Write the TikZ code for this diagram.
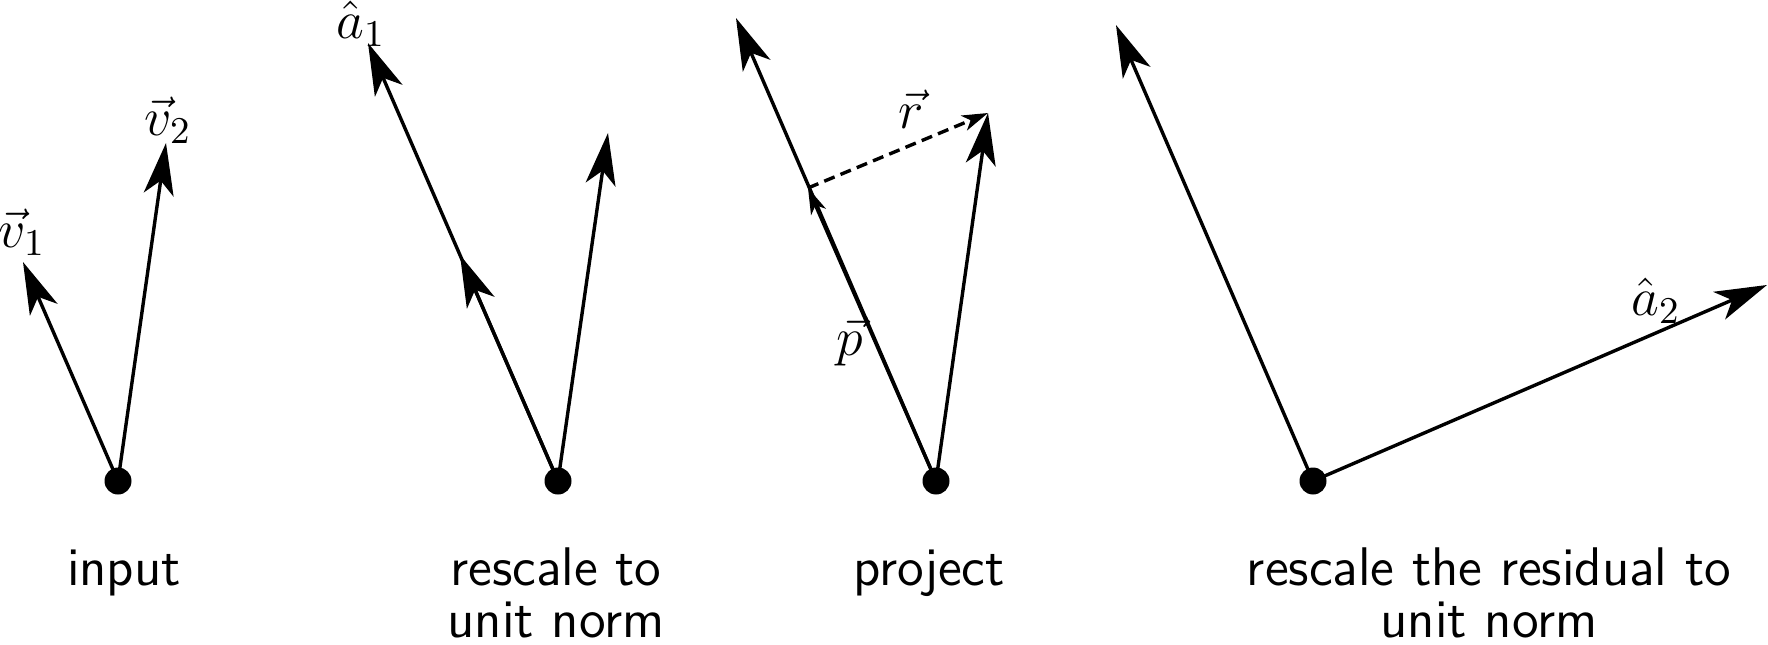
\documentclass[tikz,border=0pt]{standalone}
\usepackage{fix-cm}
\usepackage{amsmath}
\usepackage{tikz}
\usetikzlibrary{arrows.meta}
\tikzset{
  vec/.style={->, line width=0.85pt,
    >={Stealth[length=13pt, width=7.5pt, inset=3.5pt]}},
  smallvec/.style={->, line width=0.85pt,
    >={Stealth[length=6.5pt, width=4pt, inset=1.8pt]}},
  residual/.style={smallvec, dash pattern=on 2.8pt off 1.6pt},
  origin/.style={
    circle,
    fill=black,
    inner sep=0pt,
    minimum size=6.75pt},
  veclabel/.style={font=\fontsize{13.5}{15}\selectfont, inner sep=0pt},
  caption/.style={
    font=\sffamily\fontsize{13.6}{13}\selectfont,
    align=center,
    inner sep=0pt,
    anchor=base},
}
\begin{document}
\begin{tikzpicture}[x=0.25pt, y=0.25pt]
     \useasboundingbox (0,0) rectangle (1768,644);
     % input
     \node[origin] (OriginA) at (118,163) {};
     \coordinate (VOneA) at (23,382);
     \coordinate (VTwoA) at (166,501);
     \draw[vec] (OriginA.center) -- (VOneA);
     \draw[vec] (OriginA.center) -- (VTwoA);
     \node[veclabel] (LabVOne) at (22,412) {$\vec{v}_1$};
     \node[veclabel] (LabVTwo) at (168,524) {$\vec{v}_2$};
     \node[caption] (CapInput) at (124,59) {input};
     % rescale to unit norm
     \node[origin] (OriginB) at (558,163) {};
     \coordinate (AOneB) at (368,601);
     \coordinate (VOneB) at (460,389);
     \coordinate (VTwoB) at (608,511);
     \draw[vec] (OriginB.center) -- (AOneB);
     \draw[vec] (OriginB.center) -- (VOneB);
     \draw[vec] (OriginB.center) -- (VTwoB);
     \node[veclabel] (LabAOne) at (361,620) {$\hat{a}_1$};
     \node[caption] (CapRescale) at (556,7) {rescale to\\unit norm};
     % project
     \node[origin] (OriginC) at (936,163) {};
     \coordinate (AOneC) at (736,626);
     \coordinate (PC) at (808,456);
     \coordinate (VTwoC) at (988,531);
     \draw[vec] (OriginC.center) -- (AOneC);
     \draw[smallvec] (OriginC.center) -- (PC);
     \draw[vec] (OriginC.center) -- (VTwoC);
     \draw[residual] (PC) -- (VTwoC);
     \node[veclabel] (LabR) at (911,535) {$\vec{r}$};
     \node[veclabel] (LabP) at (850,302) {$\vec{p}$};
     \node[caption] (CapProject) at (929,59) {project};
     % rescale the residual
     \node[origin] (OriginD) at (1313,163) {};
     \coordinate (AOneD) at (1116,619);
     \coordinate (ATwoD) at (1767,359);
     \draw[vec] (OriginD.center) -- (AOneD);
     \draw[vec] (OriginD.center) -- (ATwoD);
     \node[veclabel] (LabATwo) at (1656,343) {$\hat{a}_2$};
     \node[caption] (CapResidual) at (1489,7) {rescale the residual to\\unit norm};
\end{tikzpicture}
\end{document}
